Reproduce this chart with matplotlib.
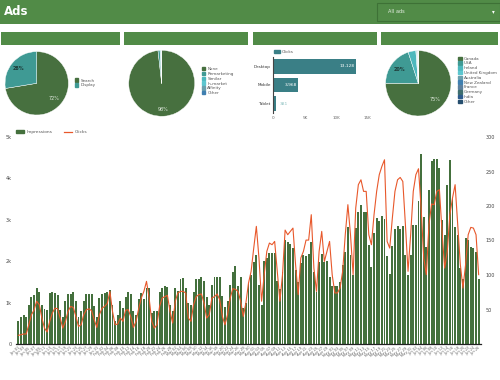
import matplotlib
matplotlib.use('Agg')
import matplotlib.pyplot as plt
import numpy as np
import pandas as pd
from matplotlib.patches import Rectangle, Patch
from matplotlib.lines import Line2D

# ---------------- data ----------------
impressions = [
    545, 658, 706, 641, 947, 1140, 1188, 1364, 1268, 947, 851, 827, 1236, 1268, 1229, 1188, 819, 658,
    1043, 1219, 1212, 1268, 1027, 658, 786, 1027, 1205, 1205, 1205, 916, 658, 1108, 1219, 1236, 1268,
    1300, 947, 561, 706, 1027, 867, 1140, 1268,
    1219, 786, 690, 1076, 1236, 1076, 1364, 1349, 746, 803, 786, 1268, 1349, 1397, 1381, 947, 786, 1364,
    1284, 1574, 1590, 1349, 995, 947, 1268, 1558, 1574, 1622, 1526, 1140, 947, 1429, 1622, 1622, 1622,
    1156, 883, 1027, 1429, 1750, 1879, 1413, 1622, 867, 979, 1461, 1670, 1992,
    2152, 1429, 947, 2007, 2071, 2200, 2200, 2200, 1526, 1333, 1750, 2505, 2457, 2424, 2312, 1782, 1509,
    1959, 2152, 2136, 2168, 2473, 1750, 1268, 1992, 2184, 1975, 2007, 1622, 1413, 1397, 1397, 1509, 1911,
    2232, 2827, 2152, 1670, 2794, 3196, 3357, 3180, 3180, 2393, 1863, 2682, 3035, 2971,
    3099, 3019, 2136, 1702, 2377, 2779, 2859, 2779, 2859, 2152, 1670, 2152, 2875, 2875, 3454, 4594, 3075,
    2345, 3719, 4417, 4466, 4466, 4240, 2996, 2634, 3839, 4450, 3517, 2835, 2634, 1830, 1574, 2553, 2514,
    2337, 2329, 2216, 1574,
]
clicks = [
    12.5, 13.5, 14.5, 14.5, 28, 42.5, 49, 62, 57, 37.6, 23, 17.4, 32.8, 45, 52, 51, 37.6, 23, 32.8, 47.3,
    54.5, 53, 40, 25.5, 28, 42.5, 49.7, 51, 48.3, 35.2, 24, 42.5, 52, 54.5, 58.8, 76.3, 47.3, 28, 29,
    37.6, 32.8, 49, 49.7,
    39.6, 24, 32.8, 51, 66.7, 76.3, 90.8, 66.7, 32.8, 23, 28, 54.5, 66.7, 68.6, 70.5, 47.3, 30.4, 62, 74,
    76.3, 76.3, 74, 37.6, 32.8, 57, 68.6, 71.5, 72.5, 59.4, 37.6, 42.5, 66.7, 68.6, 72.5, 64.2, 40, 28,
    42.5, 66.7, 80.2, 79.2, 76.3, 62, 40, 59.4, 88.3, 105.3, 139,
    170.5, 124.6, 62, 100.5, 134.2, 146.3, 143.9, 148.7, 105.3, 62, 100.5, 165.1, 158.4, 163.2, 168,
    114.9, 71.5, 124.6, 134.2, 150.6, 150.6, 187.4, 110, 76.3, 134.2, 163.2, 119.7, 134.2, 148.7, 100.5,
    74, 74, 81, 105.3, 158.4, 201.9, 158.4, 100.5, 197, 230.9, 238, 221.2, 221.2, 158.4, 143.9, 187.4,
    221.2, 245.4,
    257.4, 267, 148.7, 139, 182.5, 221.2, 238, 241.4, 235.6, 172.9, 105.3, 158.4, 221.2, 245.4, 254, 197,
    124.6, 100.5, 172.9, 202.9, 201.9, 221.2, 223.6, 163.2, 110, 134.2, 187.4, 211.5, 230.9, 172.9, 114.9,
    81, 114.9, 158.4, 169, 168, 158.4, 100.5,
]
dates = pd.date_range('2019-01-01', periods=len(impressions), freq='D')
date_labels = [d.strftime('%b %d') for d in dates]

left_ticks = [0, 1000, 2000, 3000, 4000, 5000]
left_tick_labels = ['0', '1k', '2k', '3k', '4k', '5k']
right_ticks = [50, 100, 150, 200, 250, 300]
right_tick_labels = ['50', '100', '150', '200', '250', '300']

network_labels = ['Search', 'Display']
network_values = [72.4, 27.6]

audience_labels = ['None', 'Remarketing', 'Similar', 'In-market', 'Affinity', 'Other']
audience_values = [98.2, 1.0, 0.4, 0.2, 0.1, 0.1]

device_labels = ['Desktop', 'Mobile', 'Tablet']
device_clicks = [13128, 3968, 381]
device_ticks = [0, 5000, 10000, 15000]
device_tick_labels = ['0', '5K', '10K', '15K']

country_labels = ['Canada', 'USA', 'Ireland', 'United Kingdom', 'Australia',
                  'New Zealand', 'France', 'Germany', 'India', 'Other']
country_values = [75.0, 20.0, 3.8, 0.4, 0.25, 0.2, 0.15, 0.1, 0.05, 0.05]

# ---------------- style ----------------
W, H = 500, 380
HEADER = '#518b47'
P_GREEN = '#47703f'
P_TEAL = '#3f9a94'
BAR_TEAL = '#3a7f86'
BAR_GREEN = '#44703d'
ORANGE = '#e8582b'
multi_colors = [P_GREEN, P_TEAL, '#4db8bd', '#5cc6cf', '#6aa0ad', '#3f7fb0',
                '#5b7f9f', '#3e6e6e', '#2d5b8c', '#264e6e']

fig = plt.figure(figsize=(5, 3.8), dpi=100)
fig.patch.set_facecolor('white')


def fx(x):
    return x / W


def fy(y):
    return 1 - y / H


def px_axes(x0, y0, x1, y1):
    return fig.add_axes([x0 / W, 1 - y1 / H, (x1 - x0) / W, (y1 - y0) / H])


def rect(x0, y0, x1, y1, **kw):
    fig.add_artist(Rectangle((fx(x0), fy(y1)), (x1 - x0) / W, (y1 - y0) / H,
                             transform=fig.transFigure, **kw))


# header
rect(0, 0, 500, 23.5, facecolor=HEADER, edgecolor='none')
fig.text(fx(4), fy(11.5), 'Ads', color='white', fontsize=8.5, fontweight='bold', va='center', ha='left')
rect(376.7, 2.7, 499.5, 20.7, facecolor=HEADER, edgecolor='#3e7136', linewidth=0.8)
fig.text(fx(388), fy(11.7), 'All ads', color='#e8f0e6', fontsize=3.6, va='center', ha='left')
fig.text(fx(493), fy(11.7), '▾', color='white', fontsize=4, va='center', ha='center')

# panel headers
for x0, x1 in [(1, 120), (124, 248), (252.7, 376.7), (381, 498)]:
    rect(x0, 31.7, x1, 44.7, facecolor=HEADER, edgecolor='none')


def pie_axes(cx, cy, r):
    ax = px_axes(cx - r, cy - r, cx + r, cy + r)
    return ax


def add_legend(handles, labels, x, y, pitch_fs=3.0, spacing=0.15):
    fig.legend(handles, labels, loc='upper left', bbox_to_anchor=(fx(x), fy(y)),
               bbox_transform=fig.transFigure, frameon=False, fontsize=pitch_fs,
               handlelength=0.9, handleheight=0.9, handletextpad=0.5,
               labelspacing=spacing, borderpad=0, borderaxespad=0, labelcolor='#555555')


def pct_fmt(p):
    return f'{p:.0f}%' if p > 10 else ''


# pie 1
ax1 = pie_axes(36.7, 83.3, 31.7)
w, t, at = ax1.pie(network_values, colors=[P_GREEN, P_TEAL], startangle=90, counterclock=False,
                   autopct=pct_fmt, pctdistance=0.74,
                   wedgeprops=dict(edgecolor='white', linewidth=0.3),
                   textprops=dict(fontsize=3.5))
at[0].set_color('#dfe8dd')
at[1].set_color('#1f3a38')
at[1].set_fontweight('bold')
ax1.set_xlim(-1, 1); ax1.set_ylim(-1, 1); ax1.set_aspect('equal')
add_legend([Patch(color=c) for c in [P_GREEN, P_TEAL]], network_labels, 74.5, 78.5)

# pie 2
ax2p = pie_axes(161.7, 83.3, 33.0)
w, t, at = ax2p.pie(audience_values, colors=multi_colors[:6], startangle=90, counterclock=False,
                    autopct=pct_fmt, pctdistance=0.8,
                    wedgeprops=dict(edgecolor='white', linewidth=0.3),
                    textprops=dict(fontsize=3.5))
at[0].set_color('#dfe8dd')
ax2p.set_xlim(-1, 1); ax2p.set_ylim(-1, 1); ax2p.set_aspect('equal')
add_legend([Patch(color=c) for c in multi_colors[:6]], audience_labels, 201.5, 67.0)

# device bar chart
axb = px_axes(273.3, 57, 370, 113)
ypos = np.arange(len(device_labels))
axb.barh(ypos, device_clicks, height=0.8, color=BAR_TEAL)
axb.set_ylim(2.5, -0.5)
axb.set_xlim(0, 15350)
axb.set_yticks(ypos)
axb.set_yticklabels(device_labels, fontsize=3, color='#333333')
axb.set_xticks(device_ticks)
axb.set_xticklabels(device_tick_labels, fontsize=3, color='#666666')
axb.tick_params(length=0, pad=2)
for s in ['top', 'right', 'bottom']:
    axb.spines[s].set_visible(False)
axb.spines['left'].set_color('#444444')
axb.spines['left'].set_linewidth(0.8)
for i, v in enumerate(device_clicks):
    if v > 2000:
        axb.text(v - 250, i, f'{v:,}', color='white', fontsize=3.2, ha='right', va='center')
    else:
        axb.text(v + 700, i, f'{v:,}', color='#8fc2c2', fontsize=3.2, ha='left', va='center')
fig.legend([Patch(color=BAR_TEAL)], ['Clicks'], loc='center left', bbox_to_anchor=(fx(273.5), fy(52)),
           bbox_transform=fig.transFigure, frameon=False, fontsize=3, handlelength=1.6,
           handleheight=0.8, handletextpad=0.4, borderpad=0, borderaxespad=0, labelcolor='#555555')

# pie 4
ax4 = pie_axes(418.3, 83.3, 32.7)
w, t, at = ax4.pie(country_values, colors=multi_colors, startangle=90, counterclock=False,
                   autopct=pct_fmt, pctdistance=0.72,
                   wedgeprops=dict(edgecolor='white', linewidth=0.3),
                   textprops=dict(fontsize=3.5))
at[0].set_color('#dfe8dd')
at[1].set_color('#1f3a38')
at[1].set_fontweight('bold')
ax4.set_xlim(-1, 1); ax4.set_ylim(-1, 1); ax4.set_aspect('equal')
add_legend([Patch(color=c) for c in multi_colors], country_labels, 458.0, 56.5)

# main chart
axm = px_axes(16, 137, 481, 344)
x = np.arange(len(impressions))
axm.bar(x, impressions, width=0.72, color=BAR_GREEN, zorder=2)
axm.set_xlim(-0.9, len(impressions) - 0.1)
axm.set_ylim(0, 5000)
axm.set_yticks(left_ticks)
axm.set_yticklabels(left_tick_labels, fontsize=3.5, color='#444444')
axm.set_xticks(x[::2])
axm.set_xticklabels(date_labels[::2], fontsize=2.6, color='#666666', rotation=40, ha='right',
                    rotation_mode='anchor')
axm.tick_params(axis='x', length=0, pad=1.5)
axm.tick_params(axis='y', length=0, pad=3)
for s in ['top', 'right', 'left']:
    axm.spines[s].set_visible(False)
axm.spines['bottom'].set_color('#222222')
axm.spines['bottom'].set_linewidth(0.9)

axr = axm.twinx()
axr.plot(x, clicks, color=ORANGE, linewidth=0.8, zorder=3)
axr.set_ylim(0, 300)
axr.set_yticks(right_ticks)
axr.set_yticklabels(right_tick_labels, fontsize=3.5, color='#444444')
axr.tick_params(axis='y', length=0, pad=3)
for s in ['top', 'right', 'left', 'bottom']:
    axr.spines[s].set_visible(False)

fig.legend([Patch(color=BAR_GREEN), Line2D([0], [0], color=ORANGE, lw=0.9)],
           ['Impressions', 'Clicks'], loc='center left', bbox_to_anchor=(fx(15.5), fy(132)),
           bbox_transform=fig.transFigure, frameon=False, fontsize=3.2, ncol=2,
           handlelength=2.0, handleheight=0.8, handletextpad=0.5, columnspacing=2.5,
           borderpad=0, borderaxespad=0, labelcolor='#555555')

fig.savefig('out.png', dpi=100, facecolor='white')
